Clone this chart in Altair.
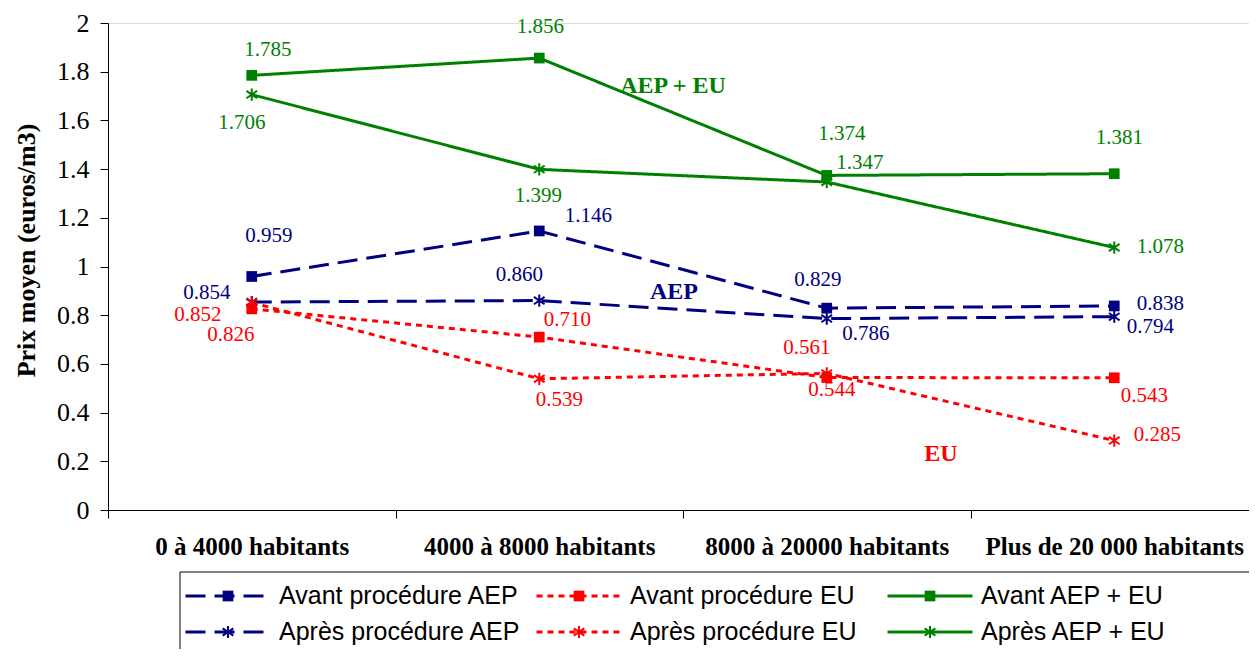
import altair as alt
import pandas as pd

categories = ["0 à 4000 habitants", "4000 à 8000 habitants",
              "8000 à 20000 habitants", "Plus de 20 000 habitants"]
series = ["Avant procédure AEP", "Avant procédure EU", "Avant AEP + EU",
          "Après procédure AEP", "Après procédure EU", "Après AEP + EU"]

avant_aep = [0.959, 1.146, 0.829, 0.838]
avant_eu = [0.826, 0.710, 0.544, 0.543]
avant_tot = [1.785, 1.856, 1.374, 1.381]
apres_aep = [0.854, 0.860, 0.786, 0.794]
apres_eu = [0.852, 0.539, 0.561, 0.285]
apres_tot = [1.706, 1.399, 1.347, 1.078]
values = [avant_aep, avant_eu, avant_tot, apres_aep, apres_eu, apres_tot]

y_ticks = [0, 0.2, 0.4, 0.6, 0.8, 1, 1.2, 1.4, 1.6, 1.8, 2]
annotations = ["AEP + EU", "AEP", "EU"]

# styles
colors = ["#000080", "#FF0000", "#008000", "#000080", "#FF0000", "#008000"]
dashes = [[20, 9], [6, 5], [1, 0], [20, 9], [6, 5], [1, 0]]
widths = [3, 3, 2, 3, 3, 2]
# label offsets (pixels) per series, per category
label_offsets = [
    [(17, -40), (49, -15), (-9, -28), (46, -2)],
    [(-21, 26), (28, -17), (5, 12), (30, 18)],
    [(16, -25), (1, -31), (15, -41), (5, -36)],
    [(-45, -9), (-20, -26), (39, 15), (36, 10)],
    [(-54, 12), (20, 21), (-20, -25), (43, -6)],
    [(-10, 28), (-1, 27), (33, -19), (46, -1)],
]
legend_col = [0, 1, 2, 0, 1, 2]
legend_row = [0, 0, 0, 1, 1, 1]

rows = []
for s, vals in zip(series, values):
    for c, v in zip(categories, vals):
        rows.append({"series": s, "cat": c, "value": v,
                     "kind": "avant" if s.startswith("Avant") else "apres"})
df = pd.DataFrame(rows)

SERIF = "Liberation Serif"
SANS = "Liberation Sans"
STAR = "M0,-1L0,1M-0.87,-0.6L0.87,0.6M-0.87,0.6L0.87,-0.6"

color_enc = alt.Color("series:N", scale=alt.Scale(domain=series, range=colors), legend=None)
dash_enc = alt.StrokeDash("series:N", scale=alt.Scale(domain=series, range=dashes), legend=None)
width_enc = alt.StrokeWidth("series:N", scale=alt.Scale(domain=series, range=widths), legend=None)

x_enc = alt.X("cat:N", sort=categories,
              scale=alt.Scale(domain=categories, range=[0, 1150], paddingInner=0, paddingOuter=0),
              axis=alt.Axis(title=None, tickBand="extent", labelAngle=0, labelFont=SERIF,
                            labelFontSize=25, labelFontWeight="bold", labelColor="black",
                            labelPadding=16, tickSize=8, tickColor="black", domainColor="black",
                            labelLimit=0, grid=False))
y_enc = alt.Y("value:Q", scale=alt.Scale(domain=[0, 2], nice=False),
              axis=alt.Axis(values=y_ticks, format="~g", grid=False, title="Prix moyen (euros/m3)",
                            labelFont=SERIF, labelFontSize=26, labelColor="black", labelPadding=11,
                            tickSize=8, tickColor="black", domainColor="black",
                            titleFont=SERIF, titleFontSize=26, titleFontWeight="bold",
                            titleColor="black", titleAngle=270, titleX=-82, titleY=227,
                            titleAlign="center", titleBaseline="middle"))

base = alt.Chart(df)
lines = base.mark_line().encode(x=x_enc, y=y_enc, color=color_enc, strokeDash=dash_enc,
                                strokeWidth=width_enc, detail="series:N")
squares = base.transform_filter(alt.datum.kind == "avant").mark_point(
    shape="square", filled=True, size=115, opacity=1).encode(x=x_enc, y=y_enc, color=color_enc)
stars = base.transform_filter(alt.datum.kind == "apres").mark_point(
    shape=STAR, filled=False, size=150, strokeWidth=2, opacity=1).encode(
    x=x_enc, y=y_enc, color=color_enc)

label_layers = []
for si, s in enumerate(series):
    for ci, c in enumerate(categories):
        dx, dy = label_offsets[si][ci]
        sub = df[(df.series == s) & (df.cat == c)]
        label_layers.append(
            alt.Chart(sub).mark_text(font=SERIF, fontSize=21, dx=dx, dy=dy,
                                     align="center", baseline="middle", color=colors[si])
            .encode(x=x_enc, y=y_enc, text=alt.Text("value:Q", format=".3f")))

ann_df = pd.DataFrame({"t": annotations})
ann_pos = [(565, 63, "#008000"), (566, 269, "#000080"), (833, 431, "#FF0000")]
ann_layers = []
for (ax, ay, col), t in zip(ann_pos, annotations):
    ann_layers.append(
        alt.Chart(ann_df[ann_df.t == t]).mark_text(font=SERIF, fontSize=24, fontWeight="bold",
                                                   color=col, align="center", baseline="middle")
        .encode(x=alt.value(ax), y=alt.value(ay), text="t:N"))

main = alt.layer(lines, squares, stars, *label_layers, *ann_layers)

# custom legend
leg_df = pd.DataFrame({"series": series, "col": legend_col, "row": legend_row})
leg_df["kind"] = ["avant" if s.startswith("Avant") else "apres" for s in series]
lx = alt.X("col:O", scale=alt.Scale(type="point", domain=[0, 1, 2], range=[120, 822], padding=0), axis=None)
ly = alt.Y("row:O", scale=alt.Scale(type="point", domain=[0, 1], range=[573, 609], padding=0), axis=None)
lbase = alt.Chart(leg_df)
box = alt.Chart(pd.DataFrame({"a": [0]})).mark_rect(fill="white", stroke="black", strokeWidth=1).encode(
    x=alt.value(72), x2=alt.value(1145), y=alt.value(549), y2=alt.value(640))
leg_lines = lbase.mark_point(shape="M-1,0L1,0", filled=False, size=85 * 85, opacity=1).encode(
    x=lx, y=ly, color=color_enc, strokeDash=dash_enc, strokeWidth=width_enc)
leg_sq = lbase.transform_filter(alt.datum.kind == "avant").mark_point(
    shape="square", filled=True, size=115, opacity=1).encode(x=lx, y=ly, color=color_enc)
leg_st = lbase.transform_filter(alt.datum.kind == "apres").mark_point(
    shape=STAR, filled=False, size=150, strokeWidth=2, opacity=1).encode(x=lx, y=ly, color=color_enc)
leg_txt = lbase.mark_text(align="left", baseline="middle", dx=51, font=SANS, fontSize=25,
                          color="black").encode(x=lx, y=ly, text="series:N")
legend = alt.layer(box, leg_lines, leg_sq, leg_st, leg_txt)

chart = alt.layer(main, legend).resolve_scale(x="independent", y="independent").properties(
    width=1141, height=487,
    autosize=alt.AutoSizeParams(type="none"),
    padding={"left": 100, "top": 15, "right": 0, "bottom": 139},
).configure_view(stroke=None).configure(background="white")

chart.save("out.html", embed_options={"renderer": "svg", "actions": False})
